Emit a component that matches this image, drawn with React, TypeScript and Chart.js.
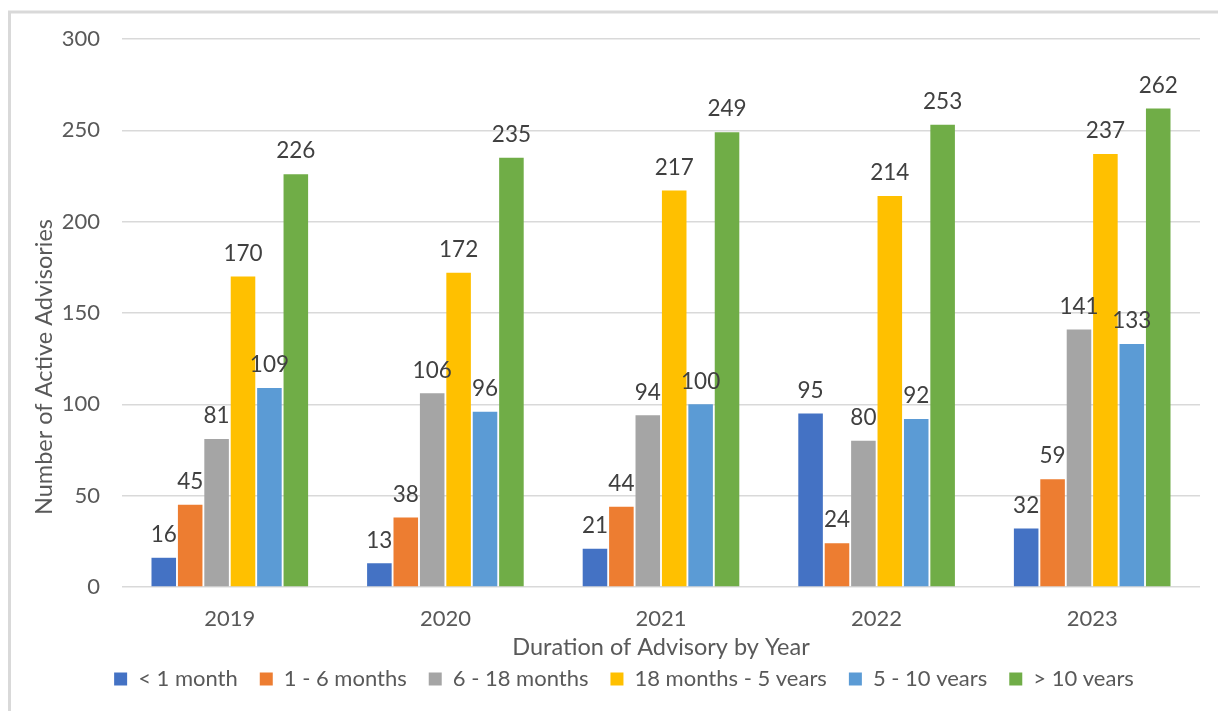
import React, { useEffect, useRef } from "react";
import { Chart, registerables } from "chart.js";

Chart.register(...registerables);

const years = ["2019", "2020", "2021", "2022", "2023"];
const seriesNames = [
  "< 1 month",
  "1 - 6 months",
  "6 - 18 months",
  "18 months - 5 years",
  "5 - 10 years",
  "> 10 years",
];
const lessThanMonth = [16, 13, 21, 95, 32];
const oneToSixMonths = [45, 38, 44, 24, 59];
const sixToEighteenMonths = [81, 106, 94, 80, 141];
const eighteenMonthsToFiveYears = [170, 172, 217, 214, 237];
const fiveToTenYears = [109, 96, 100, 92, 133];
const overTenYears = [226, 235, 249, 253, 262];
const seriesColors = ["#4472C4", "#ED7D31", "#A5A5A5", "#FFC000", "#5B9BD5", "#70AD47"];
const yTicks = [0, 50, 100, 150, 200, 250, 300];
const yTitle = "Number of Active Advisories";
const xTitle = "Duration of Advisory by Year";

const FONT = "Lato, 'Open Sans', sans-serif";
const TEXT = "#595959";

// Value labels above every bar
const valueLabels = {
  id: "valueLabels",
  afterDatasetsDraw(chart: any) {
    const ctx = chart.ctx;
    ctx.save();
    ctx.font = `22.5px ${FONT}`;
    ctx.fillStyle = "#404040";
    ctx.textAlign = "center";
    ctx.textBaseline = "middle";
    chart.data.datasets.forEach((ds: any, di: number) => {
      const meta = chart.getDatasetMeta(di);
      meta.data.forEach((bar: any, i: number) => {
        ctx.fillText(String(ds.data[i]), bar.x, bar.y - 23);
      });
    });
    ctx.restore();
  },
};

// Light grey frame around the chart
const frame = {
  id: "frame",
  beforeDraw(chart: any) {
    const ctx = chart.ctx;
    ctx.save();
    ctx.fillStyle = "#ffffff";
    ctx.fillRect(0, 0, chart.width, chart.height);
    ctx.strokeStyle = "#d9d9d9";
    ctx.lineWidth = 3;
    ctx.beginPath();
    ctx.moveTo(9.5, chart.height + 2);
    ctx.lineTo(9.5, 12);
    ctx.lineTo(chart.width + 2, 12);
    ctx.stroke();
    ctx.restore();
  },
};

// Vertical axis title, placed a little below the middle of the value axis
const yAxisTitle = {
  id: "yAxisTitle",
  afterDraw(chart: any) {
    const ctx = chart.ctx;
    const area = chart.chartArea;
    ctx.save();
    ctx.translate(44, (area.top + area.bottom) / 2 + 54);
    ctx.rotate(-Math.PI / 2);
    ctx.font = `23.5px ${FONT}`;
    ctx.fillStyle = TEXT;
    ctx.textAlign = "center";
    ctx.textBaseline = "middle";
    ctx.fillText(yTitle, 0, 0);
    ctx.restore();
  },
};

// Keep the legend compact vertically while spacing items widely, then nudge it into place
const LEGEND_HEIGHT = 40;
const LEGEND_DX = 24;
const LEGEND_DY = -25;
const legendPlacement = {
  id: "legendPlacement",
  afterInit(chart: any) {
    const lg = chart.legend;
    if (!lg) return;
    const fit = lg.fit.bind(lg);
    lg.fit = function () {
      fit();
      this.height = LEGEND_HEIGHT;
    };
  },
  afterLayout(chart: any) {
    const lg = chart.legend;
    if (!lg) return;
    lg.left += LEGEND_DX;
    lg.right += LEGEND_DX;
    lg.top += LEGEND_DY;
    lg.bottom += LEGEND_DY;
  },
};

export default function App() {
  const canvasRef = useRef<HTMLCanvasElement | null>(null);

  useEffect(() => {
    if (!canvasRef.current) return;
    const allSeries = [
      lessThanMonth,
      oneToSixMonths,
      sixToEighteenMonths,
      eighteenMonthsToFiveYears,
      fiveToTenYears,
      overTenYears,
    ];
    const chart = new Chart(canvasRef.current, {
      type: "bar",
      data: {
        labels: years,
        datasets: allSeries.map((data, i) => ({
          label: seriesNames[i],
          data,
          backgroundColor: seriesColors[i],
          borderWidth: 0,
          categoryPercentage: 0.735,
          barPercentage: 0.93,
        })),
      },
      options: {
        responsive: false,
        animation: false,
        layout: { padding: { left: 0, right: 18, top: 39, bottom: 0 } },
        plugins: {
          tooltip: { enabled: false },
          legend: {
            position: "bottom",
            labels: {
              font: { family: FONT, size: 22 },
              color: TEXT,
              boxWidth: 13,
              boxHeight: 13,
              padding: 22,
            },
          },
        },
        scales: {
          x: {
            grid: { display: false },
            border: { display: false },
            ticks: { font: { family: FONT, size: 22 }, color: TEXT, padding: 11 },
            title: {
              display: true,
              text: xTitle,
              font: { family: FONT, size: 23.5 },
              color: TEXT,
              padding: { top: 0, bottom: 9 },
            },
            afterFit(scale: any) {
              scale.height = 84;
            },
          },
          y: {
            min: 0,
            max: 300,
            afterBuildTicks(scale: any) {
              scale.ticks = yTicks.map((v) => ({ value: v }));
            },
            grid: { color: "#d9d9d9", lineWidth: 1.5, drawTicks: false },
            border: { display: false },
            ticks: { font: { family: FONT, size: 22 }, color: TEXT, padding: 22 },
            title: { display: false },
            afterFit(scale: any) {
              scale.width = 122;
            },
          },
        },
      },
      plugins: [frame, legendPlacement, valueLabels, yAxisTitle],
    });
    return () => chart.destroy();
  }, []);

  return (
    <div style={{ position: "absolute", left: 0, top: 0, width: 1218, height: 711 }}>
      <canvas ref={canvasRef} width={1218} height={711} style={{ display: "block" }} />
    </div>
  );
}
